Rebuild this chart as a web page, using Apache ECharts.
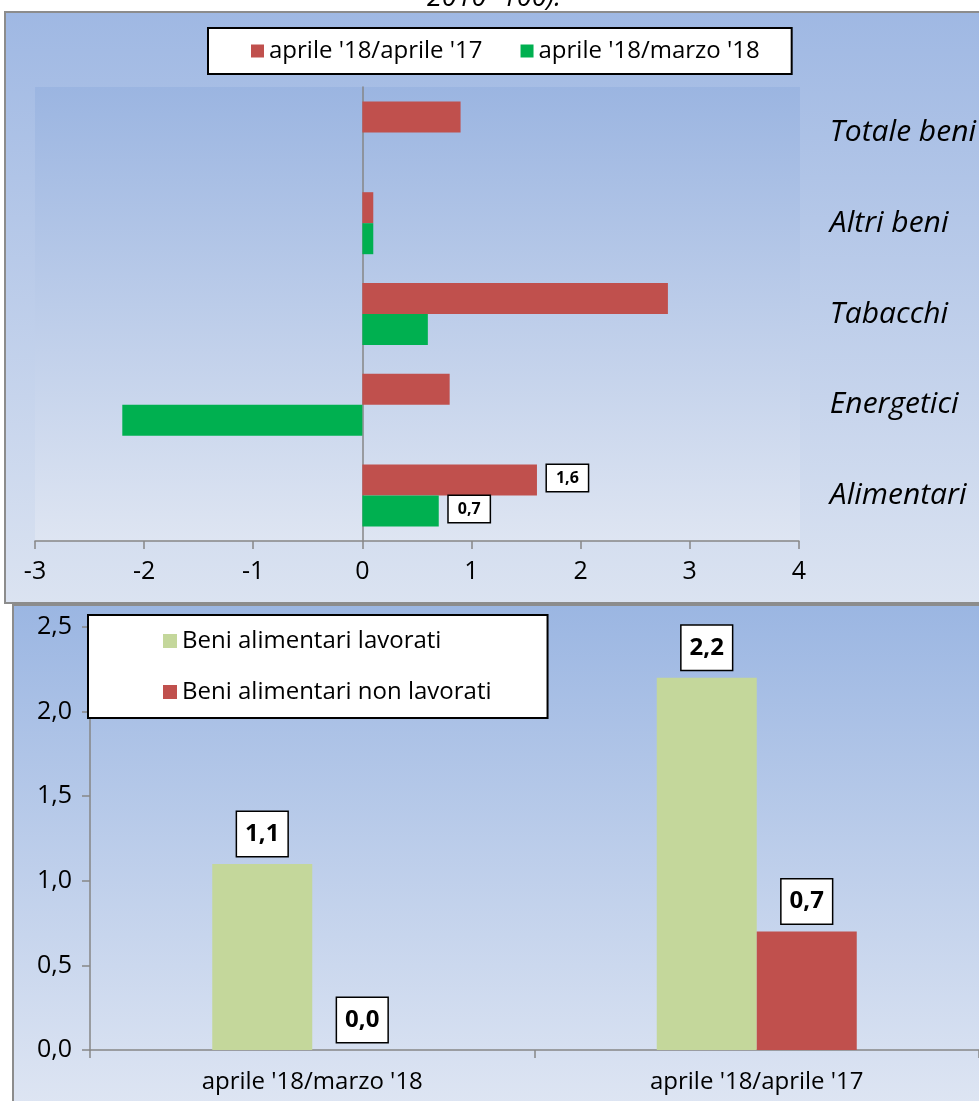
<!DOCTYPE html>
<html>
<head>
<meta charset="utf-8">
<script src="https://cdn.jsdelivr.net/npm/echarts@6/dist/echarts.min.js"></script>
<style>
  html, body { margin: 0; padding: 0; background: #ffffff; }
  #chart { width: 979px; height: 1101px; }
</style>
</head>
<body>
<div id="chart"></div>
<script>
// Top panel: variations by product group
const groups = ['Alimentari', 'Energetici', 'Tabacchi', 'Altri beni', 'Totale beni'];
const annualName = "aprile '18/aprile '17";
const monthlyName = "aprile '18/marzo '18";
const annualValues = [1.6, 0.8, 2.8, 0.1, 0.9];
const monthlyValues = [0.7, -2.2, 0.6, 0.1, 0];
const labeledGroups = ['Alimentari'];

// Bottom panel: food products
const periods = ["aprile '18/marzo '18", "aprile '18/aprile '17"];
const processedName = 'Beni alimentari lavorati';
const unprocessedName = 'Beni alimentari non lavorati';
const processedValues = [1.1, 2.2];
const unprocessedValues = [0.0, 0.7];

const FONT = '"Open Sans", "Noto Sans", sans-serif';
const AXIS_GRAY = '#868686';
const RED = '#c0504d';
const GREEN = '#00b050';
const LIGHT_GREEN = '#c4d79b';

const comma = v => Number(v).toFixed(1).replace('.', ',');

function grad(top, bottom) {
  return new echarts.graphic.LinearGradient(0, 0, 0, 1, [
    { offset: 0, color: top },
    { offset: 1, color: bottom }
  ]);
}

const smallBox = {
  show: true,
  position: 'right',
  distance: 10,
  formatter: p => comma(p.value),
  fontFamily: FONT,
  fontWeight: 'bold',
  fontSize: 16,
  color: '#000',
  backgroundColor: '#fff',
  borderColor: '#000',
  borderWidth: 1.5,
  padding: [5, 9, 5, 9],
  offset: [0, -2]
};

function withLabels(values) {
  return values.map((v, i) =>
    labeledGroups.includes(groups[i]) ? { value: v, label: smallBox } : v);
}

const bigBox = {
  show: true,
  position: 'top',
  distance: 8,
  formatter: p => comma(p.value),
  fontFamily: FONT,
  fontWeight: 'bold',
  fontSize: 24,
  lineHeight: 30,
  color: '#000',
  backgroundColor: '#fff',
  borderColor: '#000',
  borderWidth: 1.5,
  padding: [7, 8, 7, 8]
};

const chart = echarts.init(document.getElementById('chart'), null, { renderer: 'canvas' });

chart.setOption({
  animation: false,
  textStyle: { fontFamily: FONT },
  graphic: [
    {
      type: 'rect', z: -10, silent: true,
      shape: { x: 5, y: 12, width: 990, height: 591 },
      style: { fill: grad('#9fb8e3', '#dbe3f1'), stroke: '#8c8c8c', lineWidth: 2 }
    },
    {
      type: 'rect', z: -9, silent: true,
      shape: { x: 35, y: 87, width: 765, height: 454 },
      style: { fill: grad('#9bb5e1', '#dee5f2') }
    },
    {
      type: 'text', z: -8, silent: true,
      x: 494, y: 12,
      style: {
        text: '2010=100).', fill: '#000', align: 'center', verticalAlign: 'bottom',
        font: 'italic 27px ' + FONT
      }
    },
    {
      type: 'rect', z: -10, silent: true,
      shape: { x: 13, y: 605, width: 990, height: 510 },
      style: { fill: grad('#9bb6e2', '#dfe6f3'), stroke: '#8c8c8c', lineWidth: 2 }
    }
  ],
  legend: [
    {
      data: [annualName, monthlyName],
      left: 208, top: 28,
      orient: 'horizontal',
      itemWidth: 13, itemHeight: 13, itemGap: 38,
      icon: 'rect',
      backgroundColor: '#fff', borderColor: '#000', borderWidth: 2,
      padding: [11, 32, 11, 43],
      textStyle: { fontFamily: FONT, fontSize: 24, color: '#000' }
    },
    {
      data: [processedName, unprocessedName],
      left: 88, top: 615,
      orient: 'vertical',
      itemWidth: 14, itemHeight: 14, itemGap: 27,
      icon: 'rect',
      backgroundColor: '#fff', borderColor: '#000', borderWidth: 2,
      padding: [14, 56, 14, 75],
      textStyle: { fontFamily: FONT, fontSize: 24, color: '#000' }
    }
  ],
  grid: [
    { left: 35, top: 87, width: 764, height: 454 },
    { left: 90, top: 627, width: 889, height: 423 }
  ],
  xAxis: [
    {
      gridIndex: 0, type: 'value', min: -3, max: 4, interval: 1,
      axisLine: { show: true, lineStyle: { color: AXIS_GRAY, width: 1.5 } },
      axisTick: { show: true, length: 8, lineStyle: { color: AXIS_GRAY, width: 1.5 } },
      splitLine: { show: false },
      axisLabel: { fontFamily: FONT, fontSize: 25, color: '#000', margin: 18 }
    },
    {
      gridIndex: 1, type: 'category', data: periods,
      axisLine: { show: true, lineStyle: { color: AXIS_GRAY, width: 1.5 } },
      axisTick: { show: true, length: 8, lineStyle: { color: AXIS_GRAY, width: 1.5 } },
      axisLabel: { fontFamily: FONT, fontSize: 24, color: '#000', margin: 20 }
    }
  ],
  yAxis: [
    {
      gridIndex: 0, type: 'category', data: groups,
      axisLine: { show: true, onZero: true, lineStyle: { color: AXIS_GRAY, width: 1.5 } },
      axisTick: { show: false },
      axisLabel: { show: false }
    },
    {
      gridIndex: 0, type: 'category', data: groups, position: 'right',
      axisLine: { show: false, onZero: false },
      axisTick: { show: false },
      axisLabel: {
        fontFamily: FONT, fontStyle: 'italic', fontSize: 30, color: '#000',
        align: 'left', margin: 31
      }
    },
    {
      gridIndex: 1, type: 'value', min: 0, max: 2.5, interval: 0.5,
      axisLine: { show: true, lineStyle: { color: AXIS_GRAY, width: 1.5 } },
      axisTick: { show: true, length: 8, lineStyle: { color: AXIS_GRAY, width: 1.5 } },
      splitLine: { show: false },
      axisLabel: { fontFamily: FONT, fontSize: 25, color: '#000', margin: 18, formatter: v => comma(v) }
    }
  ],
  series: [
    {
      name: annualName, type: 'bar', xAxisIndex: 0, yAxisIndex: 0,
      data: withLabels(annualValues), barWidth: 31, barGap: '0%',
      itemStyle: { color: RED }
    },
    {
      name: monthlyName, type: 'bar', xAxisIndex: 0, yAxisIndex: 0,
      data: withLabels(monthlyValues), barWidth: 31, barGap: '0%',
      itemStyle: { color: GREEN }
    },
    {
      name: processedName, type: 'bar', xAxisIndex: 1, yAxisIndex: 2,
      data: processedValues, barWidth: 100, barGap: '0%',
      itemStyle: { color: LIGHT_GREEN }, label: bigBox
    },
    {
      name: unprocessedName, type: 'bar', xAxisIndex: 1, yAxisIndex: 2,
      data: unprocessedValues, barWidth: 100, barGap: '0%',
      itemStyle: { color: RED }, label: bigBox
    }
  ]
});
</script>
</body>
</html>
